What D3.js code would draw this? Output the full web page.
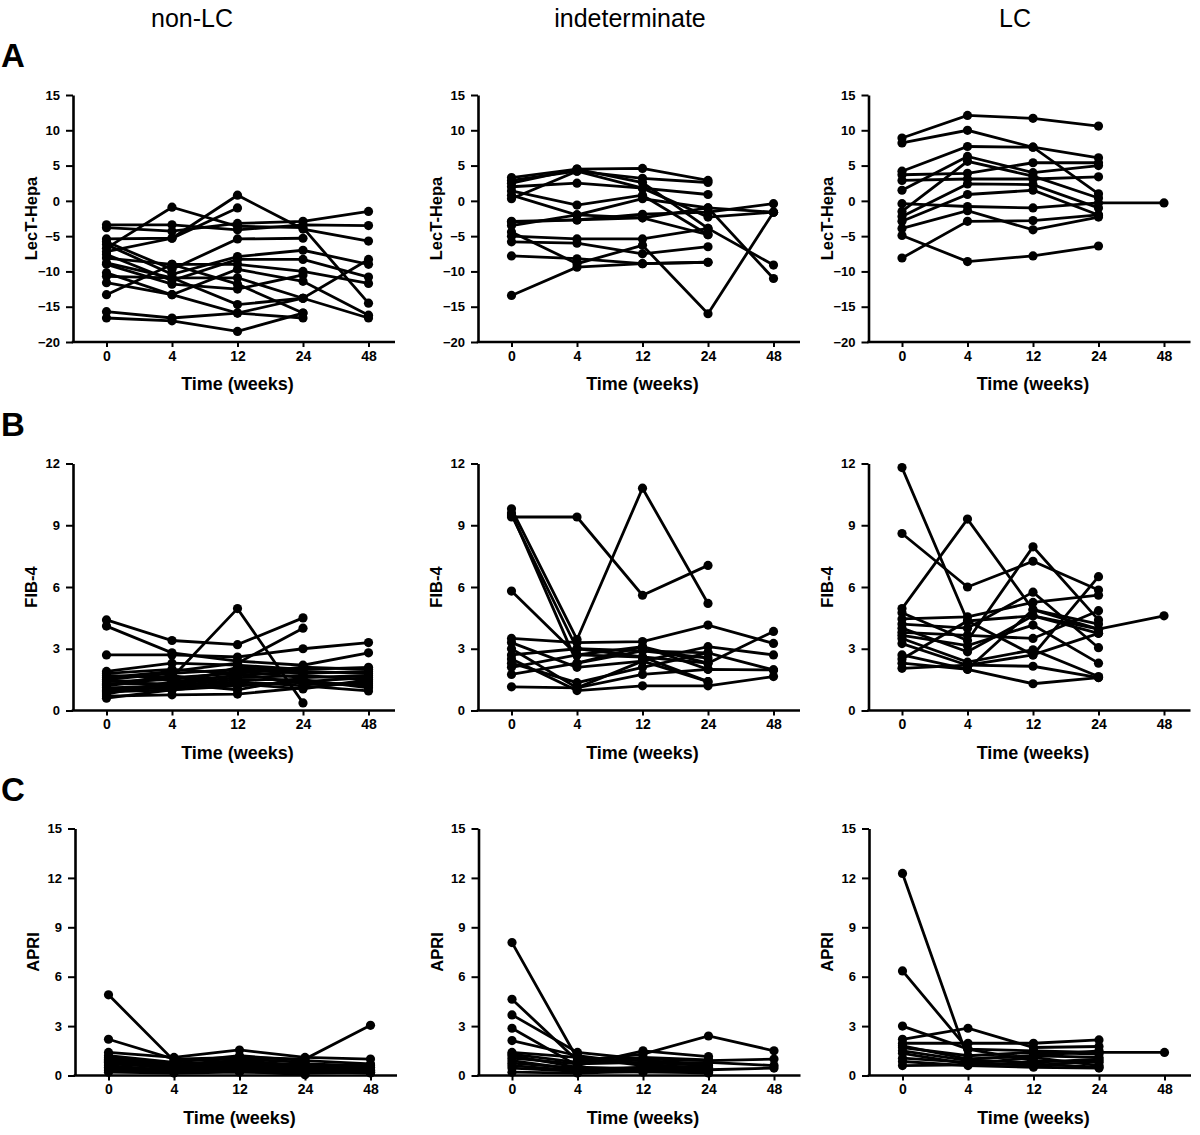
<!DOCTYPE html>
<html>
<head>
<meta charset="utf-8">
<script src="https://cdn.jsdelivr.net/npm/d3@7"></script>
<style>
body { margin: 0; background: #fff; }
svg { font-family: "Liberation Sans", Arial, Helvetica, sans-serif; }
</style>
</head>
<body>
<div id="chart"></div>
<script>
// time points (categorical, equally spaced)
const weeks = ['0', '4', '12', '24', '48']
const groups = ['non-LC', 'indeterminate', 'LC']
const rowLetters = ['A', 'B', 'C']
const measures = ['LecT-Hepa', 'FIB-4', 'APRI']

const lectTicks = [-20, -15, -10, -5, 0, 5, 10, 15]
const fibTicks = [0, 3, 6, 9, 12]
const apriTicks = [0, 3, 6, 9, 12, 15]

// one array per patient: values at 0, 4, 12, 24, 48 weeks (null = not measured)
const lectNonLC = [
    [-3.4, -3.4, -4.1, -3.4, -3.5],
    [-3.8, -4.3, -3.2, -2.9, -1.5],
    [-6.7, -0.9, -3.6, -3.8, -14.5],
    [-7.2, -5.3, 0.8, -4.0, -5.7],
    [-5.4, -5.3, -1.0, null, null],
    [-5.8, -9.7, -5.4, -5.3, null],
    [-6.2, -10.4, -7.9, -7.0, -9.0],
    [-7.6, -11.3, -8.3, -8.3, -10.8],
    [-8.1, -9.0, -9.0, -10.0, -11.7],
    [-8.8, -10.9, -14.7, -13.8, -8.3],
    [-9.0, -11.8, -12.5, -10.5, null],
    [-10.2, -13.3, -9.7, -11.4, -16.2],
    [-10.7, -10.9, -10.9, -13.8, -16.6],
    [-11.6, -13.3, -15.9, -13.8, null],
    [-13.3, -9.0, -11.8, -15.9, null],
    [-15.7, -16.6, -15.9, -16.6, null],
    [-16.6, -17.0, -18.5, -15.9, null]
]
const lectIndet = [
    [3.3, 4.5, 4.6, 2.9, null],
    [2.9, 4.2, 3.2, 2.6, null],
    [2.5, 4.5, 2.6, -3.9, null],
    [2.0, 2.5, 1.8, 0.9, null],
    [1.4, -0.6, 0.8, -4.8, null],
    [0.8, -2.0, 0.3, -1.0, -11.0],
    [0.3, 4.2, 1.8, -2.3, -1.6],
    [-2.9, -2.7, -1.9, -1.6, -0.4],
    [-3.5, -2.0, -2.4, -4.8, null],
    [-4.4, -8.9, -6.3, -16.0, -1.6],
    [-5.0, -5.4, -5.4, -3.9, -9.1],
    [-5.8, -6.0, -7.5, -6.5, null],
    [-7.8, -8.2, -8.9, -8.7, null],
    [-13.4, -9.4, -8.9, -8.7, null],
    [-3.0, -2.7, -2.4, -1.0, -1.6]
]
const lectLC = [
    [8.9, 12.1, 11.7, 10.6, null],
    [8.2, 10.0, 7.6, 1.0, null],
    [4.2, 7.7, 7.6, 6.1, null],
    [3.7, 3.9, 5.4, 5.4, null],
    [2.9, 3.1, 3.1, 3.4, null],
    [1.5, 6.3, 4.0, 5.0, null],
    [-0.4, -0.8, -1.0, -0.3, -0.3],
    [-1.5, 5.6, 3.5, 0.4, null],
    [-2.2, 2.4, 2.3, -1.0, null],
    [-2.9, 0.9, 1.5, -2.0, null],
    [-3.9, -1.4, -4.1, -2.3, null],
    [-4.9, -8.6, -7.8, -6.4, null],
    [-8.1, -2.9, -2.8, -2.0, null]
]

const fibNonLC = [
    [4.4, 3.4, 3.2, 4.5, null],
    [4.1, 2.8, 2.4, 2.2, 2.8],
    [2.7, 2.7, 2.6, 3.0, 3.3],
    [1.9, 2.3, 2.2, 2.0, 2.1],
    [1.7, 1.6, 4.95, 0.37, null],
    [1.6, 1.9, 2.3, 4.0, null],
    [1.5, 1.8, 2.0, 1.8, 1.9],
    [1.4, 1.5, 1.9, 1.6, 1.7],
    [1.3, 1.3, 1.6, 1.7, 1.5],
    [1.2, 1.6, 1.8, 1.3, 1.3],
    [1.1, 1.2, 1.5, 1.5, 1.1],
    [1.0, 1.1, 1.4, 1.2, 0.95],
    [0.9, 1.0, 1.2, 1.4, 1.2],
    [0.8, 1.4, 1.7, 1.9, 1.8],
    [0.7, 0.76, 0.8, 1.1, 1.4],
    [0.6, 1.0, 1.3, 1.05, 1.5],
    [1.8, 2.0, 1.8, 2.1, 2.0],
    [1.5, 1.2, 2.1, 1.9, null],
    [1.25, 1.7, 1.2, 1.4, 1.6],
    [0.95, 1.3, 1.0, 1.6, null]
]
const fibIndet = [
    [9.4, 9.4, 5.6, 7.05, null],
    [9.8, 3.45, 10.8, 5.2, null],
    [9.6, 2.3, 2.9, 2.55, null],
    [9.5, 3.0, 2.6, 1.4, null],
    [5.8, 2.7, 3.1, 2.3, 3.84],
    [3.5, 3.3, 3.35, 4.15, 3.26],
    [3.3, 2.1, 2.4, 3.1, 2.7],
    [3.0, 1.1, 1.75, 2.0, 1.97],
    [2.7, 3.0, 2.9, 2.8, null],
    [2.5, 0.97, 1.2, 1.2, 1.65],
    [2.3, 1.35, 2.1, 2.8, 1.97],
    [2.1, 2.7, 2.6, 2.3, null],
    [1.75, 2.3, 3.1, 2.0, null],
    [1.15, 1.1, 2.4, 1.4, null]
]
const fibLC = [
    [11.8, 4.35, 4.6, 3.95, 4.6],
    [8.6, 6.0, 7.25, 5.85, null],
    [4.95, 9.3, 4.9, 4.2, null],
    [4.75, 3.4, 7.95, 4.4, null],
    [4.45, 4.55, 5.25, 5.6, null],
    [4.2, 4.0, 5.75, 3.05, null],
    [4.0, 2.85, 4.6, 3.75, null],
    [3.8, 3.65, 3.5, 4.85, null],
    [3.65, 3.15, 4.15, 2.3, null],
    [3.5, 2.35, 2.95, 1.65, null],
    [3.25, 2.2, 2.15, 1.6, null],
    [2.7, 2.0, 1.3, 1.6, null],
    [2.5, 4.35, 2.7, 6.5, null],
    [2.3, 2.0, 4.9, 3.95, null],
    [2.05, 2.2, 2.7, 3.75, null]
]

const apriNonLC = [
    [4.9, 0.9, 1.0, 0.8, null],
    [2.2, 1.0, 1.1, 1.0, 3.05],
    [1.4, 1.1, 1.55, 1.1, 1.0],
    [1.2, 0.8, 1.2, 0.9, 0.7],
    [1.1, 0.7, 0.9, 0.6, 0.5],
    [1.0, 0.6, 0.8, 0.5, 0.4],
    [0.9, 0.5, 0.7, 0.4, 0.3],
    [0.8, 0.4, 0.6, 0.45, 0.35],
    [0.7, 0.5, 0.5, 0.3, 0.25],
    [0.6, 0.3, 0.4, 0.35, 0.2],
    [0.5, 0.35, 0.3, 0.2, 0.3],
    [0.4, 0.25, 0.35, 0.25, 0.15],
    [0.3, 0.2, 0.25, 0.05, null],
    [0.2, 0.15, 0.2, 0.15, 0.2],
    [0.95, 0.6, 0.65, 0.7, 0.6],
    [0.85, 0.45, 0.5, 0.55, null]
]
const apriIndet = [
    [8.07, 1.0, 0.9, 0.7, null],
    [4.63, 0.9, 1.3, 2.4, 1.5],
    [3.68, 1.4, 1.0, 0.9, 1.0],
    [2.87, 0.6, 1.5, 1.15, null],
    [2.12, 1.2, 0.7, 0.8, 0.6],
    [1.4, 1.1, 0.6, 0.5, null],
    [1.2, 0.5, 0.4, 0.35, 0.45],
    [1.05, 0.7, 0.8, 0.6, null],
    [0.9, 0.35, 0.5, 0.4, null],
    [0.75, 0.45, 0.3, 0.25, null],
    [0.6, 0.3, 0.35, 0.3, null],
    [0.45, 0.25, 0.2, 0.2, null],
    [0.2, 0.15, 0.25, 0.15, null],
    [1.3, 0.8, 1.1, 0.95, null]
]
const apriLC = [
    [12.27, 1.0, 1.2, 1.1, null],
    [6.35, 1.6, 0.9, 0.8, null],
    [3.0, 1.6, 1.5, 1.4, 1.4],
    [2.2, 2.87, 1.7, 1.76, null],
    [1.96, 1.96, 1.96, 2.16, null],
    [1.7, 1.2, 1.4, 1.3, null],
    [1.5, 0.9, 0.8, 1.0, null],
    [1.35, 0.7, 1.1, 0.6, null],
    [1.05, 0.8, 0.6, 0.9, null],
    [0.85, 0.6, 0.5, 0.45, null],
    [0.6, 0.65, 0.7, 0.5, null],
    [1.8, 1.0, 1.2, 1.5, null]
]

function draw() {
    let dimensions = {
        width: 1200,
        height: 1135,
        plotHeight: 247,
        axisWidth: 322,
        firstTick: 33.5,
        tickSpan: 262,
        rowTop: [95, 463.5, 828.5],
        colLeft: [[73, 478, 868.5], [73, 478, 868.5], [75, 478.5, 869]]
    }

    const rows = [
        { ticks: lectTicks, domain: [-20, 15], data: [lectNonLC, lectIndet, lectLC] },
        { ticks: fibTicks, domain: [0, 12], data: [fibNonLC, fibIndet, fibLC] },
        { ticks: apriTicks, domain: [0, 15], data: [apriNonLC, apriIndet, apriLC] }
    ]

    const svg = d3.select('#chart')
        .append('svg')
        .attr('width', dimensions.width)
        .attr('height', dimensions.height)

    // column headers
    const headerX = [192, 630, 1015]
    svg.selectAll('.header')
        .data(groups)
        .join('text')
        .attr('x', (d, i) => headerX[i])
        .attr('y', 27)
        .attr('text-anchor', 'middle')
        .attr('font-size', 25)
        .text(d => d)

    rows.forEach((row, r) => {
        const top = dimensions.rowTop[r]
        const bottom = top + dimensions.plotHeight

        // panel letter
        svg.append('text')
            .attr('x', 1)
            .attr('y', top - 28)
            .attr('font-size', 33)
            .attr('font-weight', 'bold')
            .text(rowLetters[r])

        row.data.forEach((series, c) => {
            const left = dimensions.colLeft[r][c]

            const x = d3.scalePoint()
                .domain(weeks)
                .range([left + dimensions.firstTick, left + dimensions.firstTick + dimensions.tickSpan])
            const y = d3.scaleLinear()
                .domain(row.domain)
                .range([bottom, top])

            const g = svg.append('g')

            // y axis
            const yAxis = g.append('g')
                .attr('transform', `translate(${left},0)`)
                .call(d3.axisLeft(y).tickValues(row.ticks).tickSize(7).tickPadding(6).tickSizeOuter(0))
            yAxis.select('.domain').attr('stroke-width', 2.6)
            yAxis.selectAll('.tick line').attr('stroke-width', 2)
            yAxis.selectAll('text')
                .attr('font-size', 13)
                .attr('font-weight', 'bold')
                .attr('font-family', '"Liberation Sans", Arial, sans-serif')

            // x axis
            const xAxis = g.append('g')
                .attr('transform', `translate(0,${bottom})`)
                .call(d3.axisBottom(x).tickSize(5).tickPadding(4))
            xAxis.select('.domain').remove()
            xAxis.selectAll('.tick line').attr('stroke-width', 2)
            xAxis.selectAll('text')
                .attr('font-size', 14)
                .attr('font-weight', 'bold')
                .attr('font-family', '"Liberation Sans", Arial, sans-serif')
            g.append('line')
                .attr('x1', left - 1.3)
                .attr('x2', left + dimensions.axisWidth)
                .attr('y1', bottom)
                .attr('y2', bottom)
                .attr('stroke', '#000')
                .attr('stroke-width', 2.6)

            // axis titles
            g.append('text')
                .attr('x', (x.range()[0] + x.range()[1]) / 2)
                .attr('y', bottom + 48)
                .attr('text-anchor', 'middle')
                .attr('font-size', 18)
                .attr('font-weight', 'bold')
                .text('Time (weeks)')

            g.append('text')
                .attr('transform', `translate(${left - 36},${(top + bottom) / 2}) rotate(-90)`)
                .attr('text-anchor', 'middle')
                .attr('font-size', 16.5)
                .attr('font-weight', 'bold')
                .text(measures[r])

            // patient lines
            const line = d3.line()
                .defined(d => d.v != null)
                .x(d => x(d.t))
                .y(d => y(d.v))

            const patients = series.map(vals => vals.map((v, i) => ({ t: weeks[i], v: v })))

            g.selectAll('.patient')
                .data(patients)
                .join('path')
                .attr('d', line)
                .attr('fill', 'none')
                .attr('stroke', '#000')
                .attr('stroke-width', 2.8)

            g.selectAll('.dot')
                .data(patients.flat().filter(d => d.v != null))
                .join('circle')
                .attr('cx', d => x(d.t))
                .attr('cy', d => y(d.v))
                .attr('r', 4.6)
                .attr('fill', '#000')
        })
    })
}

draw()
</script>
</body>
</html>
